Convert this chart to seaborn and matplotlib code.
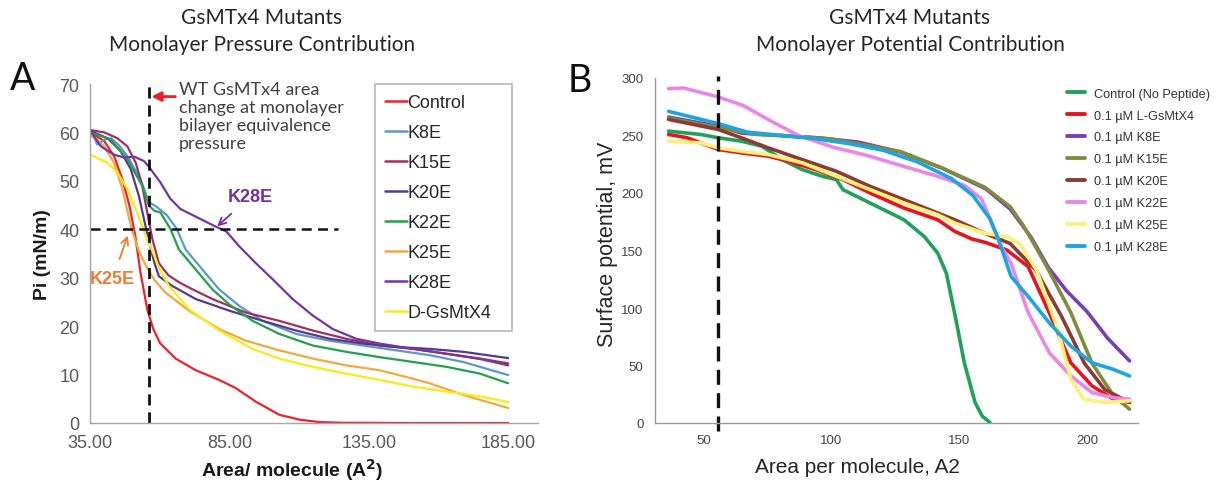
import numpy as np
import pandas as pd
import matplotlib
matplotlib.use("Agg")
import matplotlib.pyplot as plt
from matplotlib.lines import Line2D
import seaborn as sns

# ---------------- Panel A data (Area/molecule vs Pi) ----------------
a_control_x = [35, 40, 43.5, 46.5, 49, 51, 53, 55.4, 57.5, 60, 65.6, 72.8, 81.2, 87.2, 94.4, 102.8, 110, 117, 125, 150, 185]
a_control_y = [60, 58.2, 55.1, 50.3, 44.9, 39, 31, 23.5, 19.5, 16.5, 13.3, 10.9, 8.9, 7.2, 4.4, 1.7, 0.7, 0.2, 0.05, 0, 0]
a_k8e_x = [35, 37.5, 40, 42.4, 45, 48.3, 53, 56, 58.9, 62.5, 66, 69.2, 75.2, 81.2, 88.4, 96.8, 108.8, 120.8, 132.8, 144.8, 156.8, 168.8, 185]
a_k8e_y = [60.5, 57.5, 58.5, 58.8, 57.5, 55.1, 50.3, 45.6, 44.6, 42.9, 40.1, 35.8, 31.7, 27.6, 24.2, 21.1, 18.4, 17, 16, 15, 14, 12.6, 9.9]
a_k15e_x = [35, 40, 44.7, 48.3, 51.3, 53.6, 55.4, 57.2, 59.6, 63, 67, 72, 78.8, 90.8, 102.8, 114.8, 126.8, 138.8, 150.8, 162.8, 175, 185]
a_k15e_y = [60.5, 60, 58.8, 57.1, 53.7, 49, 43.5, 38.1, 33, 30.5, 29, 27.5, 25.6, 22.8, 21.1, 19.1, 17.4, 16, 15.3, 14.3, 13.3, 12.3]
a_k20e_x = [35, 41.2, 45.9, 49.5, 52.4, 54.2, 56, 58, 59.6, 64.4, 72.8, 84.8, 96.8, 108.8, 120.8, 132.8, 144.8, 156.8, 168.8, 185]
a_k20e_y = [60.3, 58.8, 56.1, 52.4, 46.9, 42.2, 37.5, 33, 30.3, 28.3, 25.6, 23.2, 21.1, 19.1, 17.4, 16.4, 15.7, 15.3, 14.7, 13.4]
a_k22e_x = [35, 42.4, 48.3, 53.6, 56, 58, 60.1, 63.7, 66.8, 72.8, 78.8, 84.8, 93.2, 102.8, 114.8, 126.8, 138.8, 150.8, 162.8, 174.8, 185]
a_k22e_y = [60, 58.5, 54.4, 49, 44.9, 43.8, 43.5, 40.1, 35.8, 31.7, 27.6, 24.5, 21.1, 18.4, 16, 14.7, 13.6, 12.6, 11.6, 10.2, 8.2]
a_k25e_x = [35, 40, 43.5, 46.5, 48.9, 50.1, 52.4, 55, 58, 62, 70.4, 81.2, 90.8, 102.8, 114.8, 126.8, 138.8, 148.4, 156.8, 168.8, 185]
a_k25e_y = [59.5, 57.1, 53.7, 48.3, 42.2, 39.5, 35.5, 32.4, 29.5, 26.9, 23.2, 19.4, 17, 15, 13.3, 11.9, 10.9, 9.5, 8.2, 5.8, 3.1]
a_k28e_x = [35, 38.8, 43.5, 47.1, 50.7, 54.2, 56, 60.1, 63.7, 67.3, 73.2, 79.1, 83.9, 88.4, 94.4, 100.4, 107.6, 114.8, 122, 130.4, 138.8, 150.8, 162.8, 175, 185]
a_k28e_y = [60.3, 57.1, 55.4, 54.8, 55, 54.1, 52.9, 49.7, 46.3, 44.2, 42.5, 40.8, 39.5, 36.5, 33, 29.7, 25.6, 22.2, 19.4, 17.4, 16.4, 15.3, 14.3, 13.2, 11.9]
a_dgs_x = [35, 41.2, 44.7, 48.3, 51.8, 54.8, 57.8, 60, 63.2, 70.4, 81.2, 93.2, 102.8, 114.8, 126.8, 138.8, 150.8, 162.8, 174.8, 185]
a_dgs_y = [55.4, 53.7, 51.7, 48.3, 43.5, 38.8, 34.7, 31.5, 28.3, 23.5, 19.1, 15.3, 13.3, 11.6, 10.2, 8.9, 7.5, 6.5, 5.5, 4.3]

a_labels = ["Control", "K8E", "K15E", "K20E", "K22E", "K25E", "K28E", "D-GsMtX4"]
a_colors = ["#ee2229", "#5f96d0", "#a0305f", "#553a8c", "#22a04b", "#f2a93b", "#7434a8", "#fbe91a"]
a_xticks = [35, 85, 135, 185]
a_xticklabels = ["35.00", "85.00", "135.00", "185.00"]
a_yticks = [0, 10, 20, 30, 40, 50, 60, 70]

# ---------------- Panel B data (Area/molecule vs surface potential) ----------------
b_control_x = [36.2, 48.8, 55.7, 64.7, 72.7, 80.6, 88.6, 96.5, 101.9, 104.5, 115.1, 128.4, 136.3, 141.6, 145, 148.7, 152, 156.2, 159, 162]
b_control_y = [253.8, 250.9, 248, 245.1, 240.7, 229.1, 220.3, 214.5, 211.6, 202.9, 191.3, 176.7, 162.2, 147.7, 130, 90, 52.4, 17.9, 6, 0.5]
b_lgs_x = [36.2, 43.5, 55.7, 64.7, 75.3, 83.3, 93.9, 104.5, 115.1, 128.4, 141.6, 148.3, 155, 160.3, 168.7, 177, 185.3, 193.7, 202, 210.3, 216.7]
b_lgs_y = [250.9, 248, 237.8, 234.9, 232, 227.6, 220.3, 211.6, 200, 186.9, 176.7, 166.6, 160, 157, 150.4, 136, 95.7, 52.4, 32.3, 20.7, 17.9]
b_k8e_x = [36.2, 55.7, 65, 80, 95, 110.3, 127, 143.7, 160.3, 170, 178, 185, 192, 200, 208, 216.7]
b_k8e_y = [266, 258, 252, 250, 248, 244.3, 235.7, 221.2, 203.8, 186, 162, 135, 115, 97, 74, 54]
b_k15e_x = [36.2, 55.7, 70, 80, 100, 127, 143, 160, 170, 175, 180, 185, 193.7, 202, 210.3, 216.7]
b_k15e_y = [265, 257, 251, 250, 247, 236, 222, 205, 188, 172, 153, 133, 96, 52, 24, 12]
b_k20e_x = [36.2, 55.7, 64.7, 75.3, 88.6, 101.9, 115.1, 128.4, 141.6, 148.3, 160, 170, 180, 190, 199, 207, 216.7]
b_k20e_y = [264, 255.2, 248, 239.2, 229, 218.9, 205.8, 194.2, 182.6, 176.7, 165, 156, 133, 93, 52, 29, 18]
b_k22e_x = [36.2, 42, 55.7, 65.3, 77, 87, 100.3, 113.7, 127, 140.3, 152, 158.7, 162, 166, 170.3, 177, 185.3, 193.7, 202, 210.3, 216.7]
b_k22e_y = [290.7, 291.3, 283.5, 276.2, 261.7, 250.1, 240, 232.8, 224, 215.4, 206.7, 195, 178, 155, 139, 96, 61, 41, 26.5, 22, 20.7]
b_k25e_x = [36.2, 48.8, 55.7, 64.7, 75.3, 88.6, 101.9, 115.1, 128.4, 141.6, 148.3, 160, 168.7, 173.7, 180.3, 188.7, 193.7, 198.7, 207, 216.7]
b_k25e_y = [245, 243.6, 239.2, 236.3, 233.4, 226.2, 214.5, 202.9, 191.3, 181.1, 173.8, 165, 162, 156, 133, 81, 38, 20.7, 17.9, 19.3]
b_k28e_x = [36.2, 55.7, 67, 80.3, 93.7, 107, 120.3, 133.7, 147, 155.3, 162, 165.3, 170.3, 177, 185.3, 193.7, 202, 210.3, 216.7]
b_k28e_y = [271, 260.3, 253, 250, 247.2, 242.9, 237.1, 227, 212.5, 198, 177.7, 160.3, 127.4, 110, 87, 66.9, 52.4, 46.7, 40.9]

b_labels = ["Control (No Peptide)", "0.1 µM L-GsMtX4", "0.1 µM K8E", "0.1 µM K15E",
            "0.1 µM K20E", "0.1 µM K22E", "0.1 µM K25E", "0.1 µM K28E"]
b_colors = ["#1ea25a", "#e8141c", "#7b3db5", "#7f8c3e", "#8b3b30", "#ea86e6", "#fbf07a", "#1ba6dd"]
b_xticks = [50, 100, 150, 200]
b_yticks = [0, 50, 100, 150, 200, 250, 300]

# ---------------- Build long tables ----------------
a_series = [(a_control_x, a_control_y), (a_k8e_x, a_k8e_y), (a_k15e_x, a_k15e_y), (a_k20e_x, a_k20e_y),
            (a_k22e_x, a_k22e_y), (a_k25e_x, a_k25e_y), (a_k28e_x, a_k28e_y), (a_dgs_x, a_dgs_y)]
b_series = [(b_control_x, b_control_y), (b_lgs_x, b_lgs_y), (b_k8e_x, b_k8e_y), (b_k15e_x, b_k15e_y),
            (b_k20e_x, b_k20e_y), (b_k22e_x, b_k22e_y), (b_k25e_x, b_k25e_y), (b_k28e_x, b_k28e_y)]

df_a = pd.concat([pd.DataFrame({"area": xs, "pi": ys, "series": lab})
                  for lab, (xs, ys) in zip(a_labels, a_series)], ignore_index=True)
df_b = pd.concat([pd.DataFrame({"area": xs, "pot": ys, "series": lab})
                  for lab, (xs, ys) in zip(b_labels, b_series)], ignore_index=True)

sns.set_style("white")
plt.rcParams["font.family"] = ["Liberation Sans", "DejaVu Sans"]

W, H = 1227, 485
fig = plt.figure(figsize=(W / 100, H / 100), dpi=100)

def fx(px):
    return px / W

def fy(py):
    return 1 - py / H

# ---------------- Panel A ----------------
axA = fig.add_axes([fx(90.4), fy(424), fx(537.5) - fx(90.4), fy(85) - fy(424)])
sns.lineplot(data=df_a, x="area", y="pi", hue="series", hue_order=a_labels,
             palette=dict(zip(a_labels, a_colors)), estimator=None, sort=True,
             linewidth=1.6, legend=False, ax=axA)
axA.set_xlim(35, 195.5)
axA.set_ylim(0, 70)
axA.set_xticks(a_xticks)
axA.set_xticklabels(a_xticklabels)
axA.set_yticks(a_yticks)
for s in ["top", "right"]:
    axA.spines[s].set_visible(False)
for s in ["left", "bottom"]:
    axA.spines[s].set_color("#a6a6a6")
    axA.spines[s].set_linewidth(1.0)
axA.tick_params(axis="both", which="major", direction="out", length=5, width=1,
                color="#a6a6a6", labelsize=13, labelcolor="#595959", pad=3)
axA.set_xlabel("Area/ molecule (A$^\\mathbf{2}$)", fontsize=14, fontweight="bold", color="#1a1a1a")
axA.xaxis.set_label_coords(0.451, -0.098)
axA.set_ylabel("Pi (mN/m)", fontsize=14, fontweight="bold", color="#1a1a1a", labelpad=6)

axA.plot([55.9, 55.9], [0, 70.3], ls=(0, (4, 2.5)), color="#111111", lw=2.0, clip_on=False)
axA.plot([35, 124], [40, 40], ls=(0, (4, 2.5)), color="#111111", lw=1.8)

axA.annotate("", xy=(55.9, 67.4), xytext=(66.5, 67.4),
             arrowprops=dict(arrowstyle="-|>", color="#ee1c24", lw=2.0, mutation_scale=14))
axA.text(66.8, 70.6, "WT GsMTx4 area\nchange at monolayer\nbilayer equivalence\npressure",
         fontsize=13, color="#404040", va="top", ha="left", linespacing=1.15, family=["Lato", "DejaVu Sans"])
axA.annotate("K28E", xy=(80.5, 40.6), xytext=(92.5, 46.8), fontsize=13, fontweight="bold",
             color="#7030a0", ha="center", va="center",
             arrowprops=dict(arrowstyle="->", color="#7030a0", lw=1.3, shrinkA=6, shrinkB=0))
axA.annotate("K25E", xy=(48.4, 38.7), xytext=(43.0, 29.8), fontsize=13, fontweight="bold",
             color="#ed7d31", ha="center", va="center",
             arrowprops=dict(arrowstyle="->", color="#ed7d31", lw=1.3, shrinkA=6, shrinkB=0))

a_handles = [Line2D([0], [0], color=c, lw=1.8) for c in a_colors]
legA = fig.legend(a_handles, a_labels, loc="upper left",
                  bbox_to_anchor=(fx(375), fy(85), fx(512) - fx(375), 0.0),
                  bbox_transform=fig.transFigure, mode="expand",
                  fontsize=13, frameon=True, fancybox=False, handlelength=1.2, handletextpad=0.05,
                  labelspacing=0.72, borderpad=0.55, borderaxespad=0)
legA.get_frame().set_edgecolor("#a6a6a6")
legA.get_frame().set_linewidth(1.2)
for t in legA.get_texts():
    t.set_color("#262626")

fig.text(fx(262), fy(18), "GsMTx4 Mutants", fontsize=15, ha="center", va="center",
         color="#262626", family=["Lato", "DejaVu Sans"])
fig.text(fx(262), fy(45), "Monolayer Pressure Contribution", fontsize=15, ha="center", va="center",
         color="#262626", family=["Lato", "DejaVu Sans"])
fig.text(fx(10), fy(90), "A", fontsize=27, ha="left", va="baseline", color="#111111",
         family=["Lato", "DejaVu Sans"])

# ---------------- Panel B ----------------
axB = fig.add_axes([fx(654.5), fy(424), fx(1138) - fx(654.5), fy(79) - fy(424)])
sns.lineplot(data=df_b, x="area", y="pot", hue="series", hue_order=b_labels,
             palette=dict(zip(b_labels, b_colors)), estimator=None, sort=True,
             linewidth=2.6, legend=False, ax=axB)
axB.set_xlim(30.7, 220)
axB.set_ylim(0, 300)
axB.set_xticks(b_xticks)
axB.set_yticks(b_yticks)
axB.set_xticks([75, 125, 175], minor=True)
axB.set_yticks([25, 75, 125, 175, 225, 275], minor=True)
for s in ["top", "right"]:
    axB.spines[s].set_visible(False)
for s in ["left", "bottom"]:
    axB.spines[s].set_color("#9a9a9a")
    axB.spines[s].set_linewidth(1.0)
axB.tick_params(axis="both", which="major", direction="out", length=4, width=1, color="#9a9a9a",
                labelsize=9.5, labelcolor="#444444", pad=4)
axB.tick_params(axis="both", which="minor", direction="out", length=2.5, width=0.8, color="#b0b0b0")
axB.set_xlabel("Area per molecule, A2", fontsize=15, color="#262626")
axB.xaxis.set_label_coords(0.42, -0.098)
axB.set_ylabel("Surface potential, mV", fontsize=15.5, color="#262626")
axB.yaxis.set_label_coords(-0.075, 0.52)

axB.plot([55.7, 55.7], [-7, 302], ls=(0, (4.5, 2.5)), color="#111111", lw=2.4, clip_on=False)

b_handles = [Line2D([0], [0], color=c, lw=2.8) for c in b_colors]
legB = fig.legend(b_handles, b_labels, loc="upper left",
                  bbox_to_anchor=(fx(1064), fy(86)), bbox_transform=fig.transFigure,
                  frameon=False, handlelength=1.45, handletextpad=0.7,
                  labelspacing=0.78, borderpad=0.2, borderaxespad=0, prop={"size": 9.2})
for t in legB.get_texts():
    t.set_color("#333333")

fig.text(fx(910), fy(18), "GsMTx4 Mutants", fontsize=15, ha="center", va="center",
         color="#262626", family=["Lato", "DejaVu Sans"])
fig.text(fx(910), fy(45), "Monolayer Potential Contribution", fontsize=15, ha="center", va="center",
         color="#262626", family=["Lato", "DejaVu Sans"])
fig.text(fx(568), fy(92), "B", fontsize=27, ha="left", va="baseline", color="#111111",
         family=["Lato", "DejaVu Sans"])

fig.savefig("out.png", dpi=100, facecolor="white")
